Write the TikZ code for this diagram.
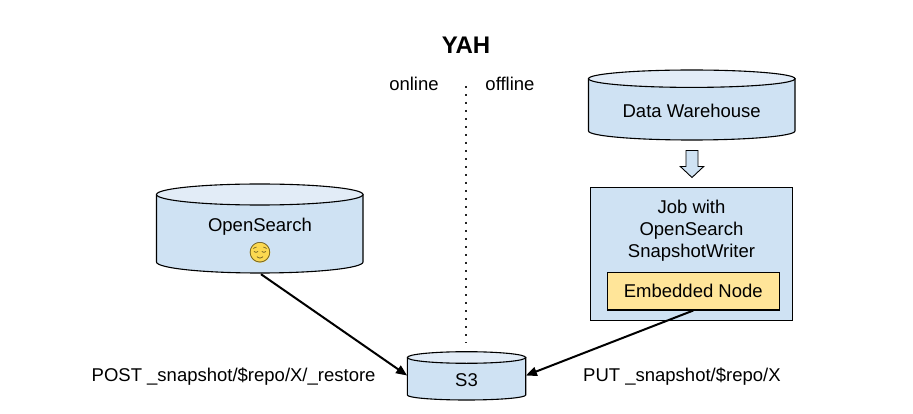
\documentclass[tikz,border=0pt]{standalone}
\usepackage{fontspec}
\setmainfont{Liberation Sans}
\newfontfamily\emojifont{Noto Emoji}
\usetikzlibrary{arrows.meta}
\definecolor{cylbody}{HTML}{CFE2F3}
\definecolor{cyltop}{HTML}{E2ECF7}
\definecolor{embfill}{HTML}{FFE599}
\definecolor{emojiyellow}{HTML}{FBD850}
\tikzset{
  lbl/.style={font=\fontsize{18.5}{21.8}\selectfont, text=black, inner sep=0pt, align=center},
  cylbox/.style={draw=none, inner sep=0pt, minimum width=#1},
  cyldraw/.style={draw=black, line width=1.1pt},
  boxdraw/.style={draw=black, line width=1.1pt, fill=#1},
  flow/.style={-{Triangle[length=11pt,width=9pt]}, line width=2pt, black},
  sep/.style={line width=1.6pt, black!85, dash pattern=on 1.6pt off 6.4pt}
}
% #1 left, #2 right, #3 top-ellipse centre y, #4 top ry, #5 bottom-ellipse centre y, #6 bottom ry
\newcommand{\cylshape}[6]{%
  \pgfmathsetmacro{\rxx}{(#2-#1)/2}
  \path[cyldraw, fill=cylbody] (#1,#3) -- (#1,#5) arc[start angle=180,end angle=360,x radius=\rxx pt,y radius=#6 pt] -- (#2,#3) -- cycle;
  \path[cyldraw, fill=cyltop] (#1,#3) arc[start angle=180,end angle=540,x radius=\rxx pt,y radius=#4 pt];
}
\begin{document}
\begin{tikzpicture}[x=1pt,y=-1pt]
\useasboundingbox (0,0) rectangle (913,414);

\node[font=\fontsize{24}{28}\selectfont\bfseries, inner sep=0pt] (title) at (466,45) {YAH};
\node[lbl] (online) at (414,84) {online};
\node[lbl] (offline) at (510,84) {offline};

\coordinate (septop) at (466,86);
\coordinate (sepbot) at (466,343);
\draw[sep] (septop) -- (sepbot);

% Data Warehouse
\cylshape{588.5}{795}{78.7}{8.7}{131}{9}
\node[lbl] (dw) at (691.7,110.5) {Data Warehouse};

% Block arrow
\path[draw=black, line width=0.9pt, fill=cylbody] (686,150.5) -- (698,150.5) -- (698,166.5) -- (703.7,166.5) -- (692,177.5) -- (680.3,166.5) -- (686,166.5) -- cycle;

% Job box
\node[boxdraw=cylbody, minimum width=202pt, minimum height=132.7pt, inner sep=0pt] (job) at (691.3,253.7) {};
\node[lbl] (jobtext) at (691.5,231) {Job with\\OpenSearch\\SnapshotWriter};
\node[boxdraw=embfill, minimum width=172pt, minimum height=37.3pt, inner sep=0pt, lbl] (emb) at (693.3,291.3) {Embedded Node};

% OpenSearch
\cylshape{156.5}{363}{194.5}{10.5}{262}{11}
\node[cylbox=206pt, minimum height=90pt] (os) at (261,229) {};
\node[lbl] (ostext) at (260,227) {OpenSearch};
\node[circle, fill=emojiyellow, inner sep=0pt, minimum size=20.5pt] (emojibg) at (260,252.5) {};
\node[inner sep=0pt, text=black!65!emojiyellow, font=\emojifont\fontsize{20}{20}\selectfont] (emoji) at (260,252.5) {😌};

% S3
\cylshape{407.3}{525.7}{357.5}{5.8}{395}{5}
\node[cylbox=118.4pt, minimum height=48pt] (s3) at (466.5,375.5) {};
\node[lbl] (s3text) at (466.5,380.5) {S3};

\draw[flow] (os.south) -- (s3.west);
\draw[flow] (emb.south) -- (s3.east);

\node[lbl, anchor=west] (post) at (91.5,376.5) {POST \_snapshot/\$repo/X/\_restore};
\node[lbl, anchor=west] (put) at (583,376.5) {PUT \_snapshot/\$repo/X};
\end{tikzpicture}
\end{document}
